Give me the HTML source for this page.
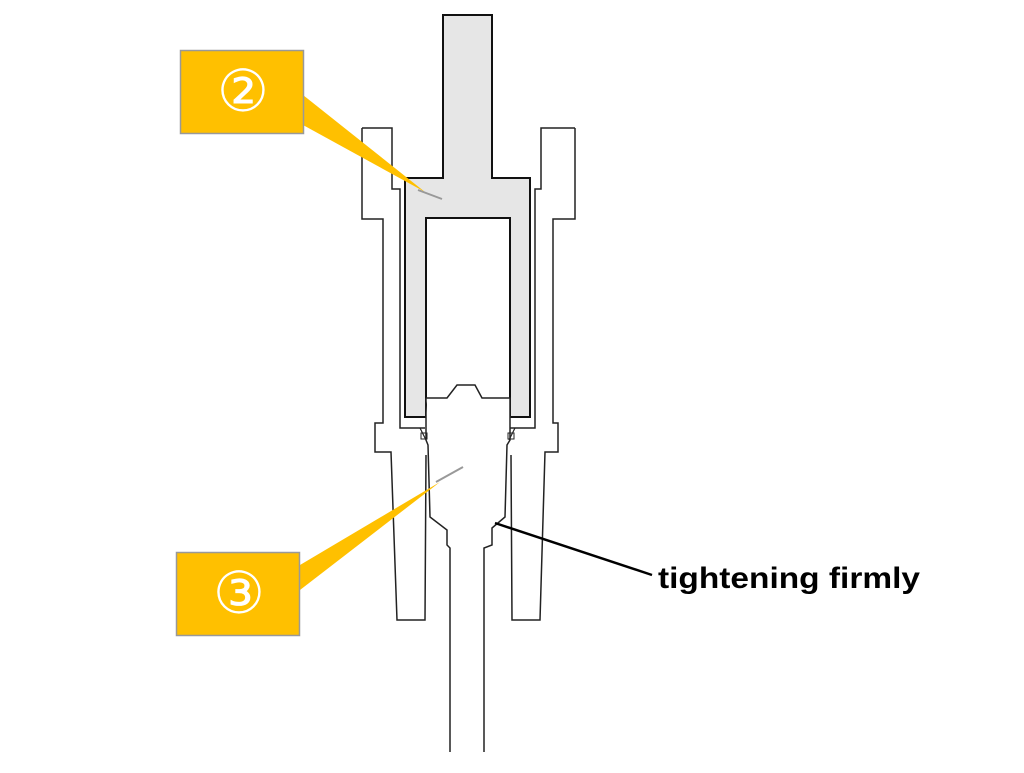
<!DOCTYPE html>
<html><head><style>
body{margin:0;background:#fff;width:1024px;height:768px;overflow:hidden}
</style></head><body>
<svg width="1024" height="768" viewBox="0 0 1024 768" xmlns="http://www.w3.org/2000/svg">
<rect width="1024" height="768" fill="#fff"/>
<g fill="none" stroke="#222" stroke-width="1.5">
<path d="M362,128 H392 V189 H400 V428 H425 M362,128 V219 H383 V423 H375 V452 H391 L397,620 H425 L426,455"/>
<path d="M575,128 H541 V189 H535 V428 H510 M575,128 V219 H553 V423 H558 V452 H545 L540,620 H512 L511,455"/>
</g>
<path d="M443,15 H492 V178 H530 V417 H510 V218 H426 V417 H405 V178 H443 Z" fill="#e6e6e6" stroke="#111" stroke-width="2"/>
<path d="M426,398 H447 L457,385 H475 L482,398 H510 V440 L507,445 L505,517 L492,528 V545 L484,548 V752 M426,398 V440 L428,445 L430,517 L447,530 V545 L450,548 V752" fill="#fff" stroke="#222" stroke-width="1.5"/>
<path d="M420,428 L426,440 M515,428 L509,440" stroke="#222" stroke-width="1.2"/>
<rect x="421" y="433" width="6" height="6" fill="none" stroke="#222"/>
<rect x="508" y="433" width="6" height="6" fill="none" stroke="#222"/>
<polygon points="303,95 303,125 425,192" fill="#FFC000"/>
<line x1="418" y1="190" x2="442" y2="199" stroke="#999" stroke-width="2"/>
<rect x="180.5" y="50.5" width="123" height="83" fill="#FFC000" stroke="#999" stroke-width="1.5"/>
<text x="243" y="111" font-family="DejaVu Sans, sans-serif" font-size="58" fill="#fff" text-anchor="middle">②</text>
<polygon points="300,565 300,590 440,482" fill="#FFC000"/>
<line x1="436" y1="482" x2="463" y2="467" stroke="#999" stroke-width="2"/>
<rect x="176.5" y="552.5" width="123" height="83" fill="#FFC000" stroke="#999" stroke-width="1.5"/>
<text x="239" y="613" font-family="DejaVu Sans, sans-serif" font-size="58" fill="#fff" text-anchor="middle">③</text>
<line x1="495" y1="523" x2="652" y2="575" stroke="#000" stroke-width="2.5"/>
<text x="658" y="588" font-family="Liberation Sans, sans-serif" font-size="30" font-weight="bold" fill="#000" textLength="262" lengthAdjust="spacingAndGlyphs">tightening firmly</text>
</svg>
</body></html>
